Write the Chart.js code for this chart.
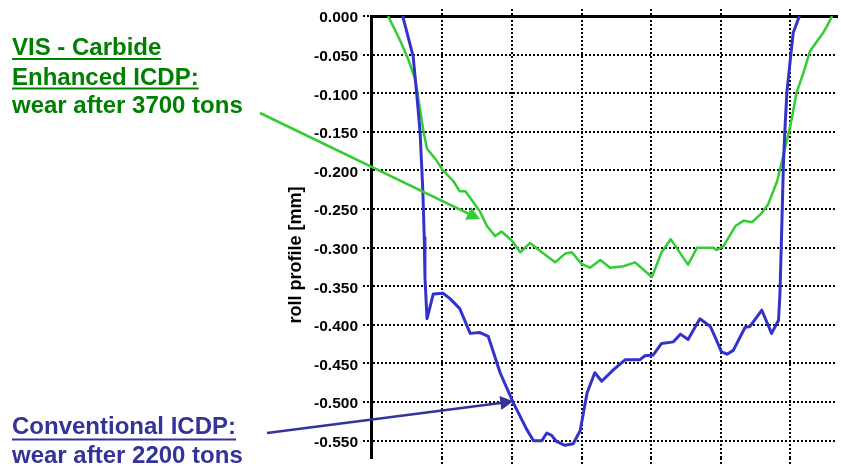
<!DOCTYPE html>
<html>
<head>
<meta charset="utf-8">
<title>Roll profile wear</title>
<script src="https://cdn.jsdelivr.net/npm/chart.js@4/dist/chart.umd.min.js"></script>
<style>
  html, body { margin: 0; padding: 0; background: #ffffff; }
  #wrap { width: 841px; height: 472px; position: relative; }
</style>
</head>
<body>
<div id="wrap"><canvas id="c" width="841" height="472"></canvas></div>
<script>
// Worn roll profile along the barrel (position, unlabelled) vs. depth in mm
const conventionalX = [43, 58, 63, 68, 72, 74, 75, 78, 87, 101, 111, 125, 140, 154, 166, 183, 202, 221, 231, 243, 250, 257, 264, 276, 288, 298, 308, 319, 329, 346, 363, 384, 391, 403, 415, 432, 442, 453, 470, 485, 494, 501, 509, 518, 535, 542, 559, 573, 583, 585, 587, 590, 592, 595, 600, 604, 613];
const conventionalY = [0.000, -0.052, -0.099, -0.150, -0.227, -0.287, -0.338, -0.392, -0.360, -0.359, -0.366, -0.379, -0.411, -0.410, -0.415, -0.462, -0.501, -0.535, -0.550, -0.550, -0.540, -0.543, -0.551, -0.556, -0.554, -0.537, -0.488, -0.462, -0.473, -0.458, -0.445, -0.445, -0.440, -0.439, -0.424, -0.422, -0.412, -0.419, -0.392, -0.402, -0.420, -0.435, -0.438, -0.433, -0.403, -0.402, -0.381, -0.411, -0.394, -0.360, -0.296, -0.193, -0.150, -0.099, -0.056, -0.022, 0.000];

const carbideX = [22, 39, 51, 61, 68, 73, 78, 90, 101, 116, 125, 133, 142, 154, 164, 176, 185, 200, 212, 226, 243, 255, 262, 276, 286, 300, 312, 327, 341, 360, 377, 401, 415, 428, 453, 466, 489, 494, 504, 521, 533, 545, 557, 568, 581, 590, 600, 609, 619, 628, 638, 647, 652, 660];
const carbideY = [0.000, -0.031, -0.056, -0.082, -0.121, -0.150, -0.172, -0.185, -0.200, -0.214, -0.227, -0.227, -0.238, -0.253, -0.272, -0.285, -0.279, -0.291, -0.306, -0.294, -0.306, -0.314, -0.319, -0.308, -0.306, -0.321, -0.326, -0.316, -0.326, -0.324, -0.319, -0.338, -0.306, -0.289, -0.322, -0.300, -0.300, -0.303, -0.298, -0.272, -0.265, -0.267, -0.257, -0.244, -0.214, -0.180, -0.142, -0.099, -0.073, -0.046, -0.033, -0.022, -0.014, 0.000];

const yTickValues = [0, -0.05, -0.10, -0.15, -0.20, -0.25, -0.30, -0.35, -0.40, -0.45, -0.50, -0.55];
const xGridValues = [100, 200, 300, 400, 500, 600];

const yAxisTitle = 'roll profile [mm]';
const carbideLabel = ['VIS - Carbide', 'Enhanced ICDP:', 'wear after 3700 tons'];
const conventionalLabel = ['Conventional ICDP:', 'wear after 2200 tons'];
// points on each curve that the callout arrows reach
const carbideArrowTip = { x: 154, y: -0.263 };
const conventionalArrowTip = { x: 202, y: -0.499 };

const FONT = '"Liberation Sans", Arial, sans-serif';
const GREEN_LINE = '#33cc33';
const BLUE_LINE = '#3333cc';
const GREEN_TEXT = '#008000';
const BLUE_TEXT = '#333399';

function drawArrow(ctx, x0, y0, x1, y1, color, width, headLen, headHalf) {
  const a = Math.atan2(y1 - y0, x1 - x0);
  const bx = x1 - headLen * Math.cos(a), by = y1 - headLen * Math.sin(a);
  ctx.strokeStyle = color;
  ctx.fillStyle = color;
  ctx.lineWidth = width;
  ctx.beginPath();
  ctx.moveTo(x0, y0);
  ctx.lineTo(bx + 2 * Math.cos(a), by + 2 * Math.sin(a));
  ctx.stroke();
  ctx.beginPath();
  ctx.moveTo(x1, y1);
  ctx.lineTo(bx - headHalf * Math.sin(a), by + headHalf * Math.cos(a));
  ctx.lineTo(bx + headHalf * Math.sin(a), by - headHalf * Math.cos(a));
  ctx.closePath();
  ctx.fill();
}

function drawLabel(ctx, lines, x, baselines, underlined, color, ulOffset) {
  ctx.fillStyle = color;
  ctx.font = 'bold 24px ' + FONT;
  ctx.textAlign = 'left';
  ctx.textBaseline = 'alphabetic';
  lines.forEach((t, i) => {
    ctx.fillText(t, x, baselines[i]);
    if (underlined[i]) {
      const w = ctx.measureText(t).width;
      ctx.fillRect(x, baselines[i] + ulOffset, w, 2);
    }
  });
}

const annotate = {
  id: 'annotate',
  afterDraw(chart) {
    const { ctx, scales } = chart;
    ctx.save();
    // y axis title
    ctx.save();
    ctx.translate(301, 255);
    ctx.rotate(-Math.PI / 2);
    ctx.font = 'bold 18px ' + FONT;
    ctx.fillStyle = '#000';
    ctx.textAlign = 'center';
    ctx.textBaseline = 'alphabetic';
    ctx.fillText(yAxisTitle, 0, 0);
    ctx.restore();

    drawLabel(ctx, carbideLabel, 12, [55, 84.5, 113], [true, true, false], GREEN_TEXT, 3);
    drawLabel(ctx, conventionalLabel, 12, [434, 463], [true, false], BLUE_TEXT, 4.5);

    const gx = scales.x.getPixelForValue(carbideArrowTip.x);
    const gy = scales.y.getPixelForValue(carbideArrowTip.y);
    drawArrow(ctx, 260, 113, gx, gy, GREEN_LINE, 2.5, 13, 7);
    const bx = scales.x.getPixelForValue(conventionalArrowTip.x);
    const by = scales.y.getPixelForValue(conventionalArrowTip.y);
    drawArrow(ctx, 267, 433, bx, by, BLUE_TEXT, 2.5, 13, 7);
    ctx.restore();
  }
};

const toPoints = (xs, ys) => xs.map((x, i) => ({ x, y: ys[i] }));
const dotted = { color: '#000', lineWidth: 2, tickColor: '#000', tickWidth: 2, tickBorderDash: [2, 2] };

new Chart(document.getElementById('c'), {
  type: 'line',
  data: {
    datasets: [
      {
        label: 'Conventional ICDP',
        data: toPoints(conventionalX, conventionalY),
        borderColor: BLUE_LINE,
        borderWidth: 3,
        pointRadius: 0,
        tension: 0,
        fill: false,
        borderJoinStyle: 'round'
      },
      {
        label: 'VIS - Carbide Enhanced ICDP',
        data: toPoints(carbideX, carbideY),
        borderColor: GREEN_LINE,
        borderWidth: 2.5,
        pointRadius: 0,
        tension: 0,
        fill: false,
        borderJoinStyle: 'round'
      }
    ]
  },
  options: {
    responsive: false,
    animation: false,
    events: [],
    layout: { padding: { left: 0, right: 4, top: 0, bottom: 0 } },
    plugins: { legend: { display: false }, tooltip: { enabled: false }, title: { display: false } },
    scales: {
      x: {
        type: 'linear',
        position: 'bottom',
        min: -2.5,
        max: 667,
        afterBuildTicks: s => { s.ticks = xGridValues.map(v => ({ value: v })); },
        afterFit: s => { s.height = 10; },
        ticks: { display: false },
        grid: Object.assign({ drawTicks: true, tickLength: 7 }, dotted),
        border: { display: false, dash: [2, 2] }
      },
      xTop: {
        type: 'linear',
        axis: 'x',
        position: 'top',
        min: -2.5,
        max: 667,
        afterBuildTicks: s => { s.ticks = xGridValues.map(v => ({ value: v })); },
        afterFit: s => { s.height = 16; },
        ticks: { display: false },
        grid: Object.assign({ drawOnChartArea: false, drawTicks: true, tickLength: 7 }, dotted),
        border: { display: true, color: '#000', width: 3 }
      },
      y: {
        type: 'linear',
        position: 'left',
        min: -0.572,
        max: 0,
        afterBuildTicks: s => { s.ticks = yTickValues.map(v => ({ value: v })); },
        afterFit: s => { s.width = 371; },
        ticks: {
          color: '#000',
          font: { family: FONT, size: 15.5, weight: 'bold' },
          padding: 5,
          labelOffset: 2,
          callback: v => Number(v).toFixed(3)
        },
        grid: Object.assign({ drawTicks: true, tickLength: 8 }, dotted),
        border: { display: true, color: '#000', width: 3, dash: [2, 2] }
      }
    }
  },
  plugins: [annotate]
});
</script>
</body>
</html>
